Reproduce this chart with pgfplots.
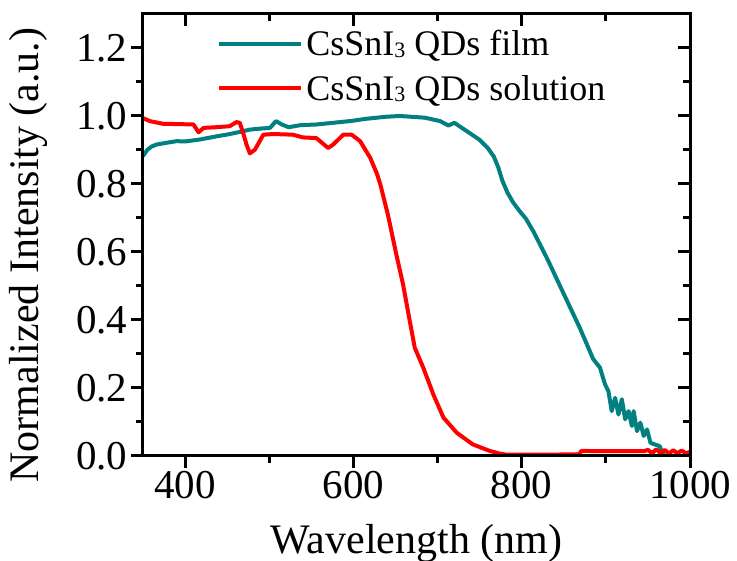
\documentclass[border=0pt]{standalone}
\usepackage{fontspec}
\setmainfont{Liberation Serif}
\usepackage{pgfplots}
\pgfplotsset{compat=1.18}
\definecolor{film}{RGB}{0,128,128}
\definecolor{sol}{RGB}{255,0,0}
\newcommand{\sub}[1]{\raisebox{-0.04em}{\fontsize{22}{24}\selectfont #1}}
\begin{document}
\begin{tikzpicture}
\pgfplotsset{
  common/.style={
    scale only axis, width=547pt, height=442pt,
    xmin=350, xmax=1000, ymin=0, ymax=1.3,
    xtick={400,600,800,1000}, ytick={0,0.2,0.4,0.6,0.8,1.0,1.2},
    minor x tick num=1, minor y tick num=1,
    major tick length=12pt, minor tick length=7pt,
    axis line style={line width=3pt},
    every tick/.style={line width=3pt, black},
    /pgf/number format/assume math mode=true,
  }
}
\begin{axis}[common,
  xtick pos=bottom, ytick pos=left, tick align=outside,
  tick label style={font=\fontsize{41}{44}\selectfont},
  xticklabel style={/pgf/number format/.cd, fixed, 1000 sep={}},
  yticklabel style={/pgf/number format/.cd, fixed, fixed zerofill, precision=1},
  label style={font=\fontsize{42}{46}\selectfont},
  xlabel={Wavelength (nm)}, ylabel={Normalized Intensity (a.u.)},
  xlabel style={yshift=-18pt}, ylabel style={yshift=22pt, xshift=-20pt},
  legend style={draw=none, fill=none, at={(0.13,0.975)}, anchor=north west,
    font=\fontsize{36}{40}\selectfont, row sep=12pt,
    nodes={inner sep=3pt}},
  legend cell align=left,
  legend image code/.code={\draw[#1,line width=4pt] (0pt,0pt) -- (82pt,0pt);},
  clip=true,
]
\coordinate (sw) at (rel axis cs:0,0);
\coordinate (ne) at (rel axis cs:1,1);
\addplot[film, line width=4pt, line join=round] coordinates {
(350,0.882)(355,0.90)(360,0.91)(366,0.916)(375,0.92)(390,0.926)(400,0.925)(418,0.931)(437,0.94)(449,0.945)(463,0.952)(477,0.96)(490,0.963)(501,0.965)(508,0.985)(515,0.975)(523,0.967)(537,0.973)(556,0.975)(576,0.98)(596,0.985)(616,0.992)(640,0.998)(655,1.0)(667,0.998)(685,0.995)(703,0.985)(713,0.972)(720,0.98)(735,0.955)(750,0.93)(760,0.905)(767,0.88)(772,0.85)(777,0.81)(783,0.775)(790,0.745)(797,0.722)(805,0.698)(814,0.660)(830,0.582)(849,0.482)(869,0.377)(885,0.285)(893,0.26)(899,0.211)(903,0.191)(907,0.132)(911,0.171)(915,0.122)(919,0.167)(923,0.108)(927,0.132)(931,0.088)(933,0.132)(937,0.073)(941,0.098)(945,0.059)(949,0.078)(953,0.039)(958,0.034)(964,0.029)(968,0.005)(970,0.0)
};
\addlegendentry{CsSnI\sub{3} QDs film}
\addplot[sol, line width=4pt, line join=round] coordinates {
(350,0.994)(358,0.985)(374,0.977)(395,0.976)(410,0.975)(416,0.952)(422,0.965)(437,0.967)(453,0.97)(461,0.982)(465,0.98)(469,0.95)(473,0.916)(477,0.89)(483,0.901)(493,0.945)(505,0.947)(528,0.945)(540,0.937)(556,0.935)(570,0.906)(576,0.916)(588,0.945)(598,0.945)(608,0.926)(620,0.877)(628,0.83)(632,0.799)(641,0.71)(651,0.593)(659,0.505)(667,0.397)(673,0.318)(683,0.26)(695,0.181)(707,0.113)(723,0.068)(742,0.034)(762,0.015)(774,0.007)(782,0.004)(830,0.004)(868,0.005)(871,0.015)(900,0.014)(945,0.014)(950,0.018)(955,0.008)(960,0.02)(965,0.008)(970,0.018)(975,0.007)(980,0.017)(985,0.008)(990,0.016)(995,0.008)(1000,0.012)
};
\addlegendentry{CsSnI\sub{3} QDs solution}
\end{axis}
\begin{axis}[common,
  xtick pos=top, ytick pos=right, tick align=inside,
  xticklabels={}, yticklabels={},
]
\end{axis}
\pgfresetboundingbox
\path[use as bounding box] ([xshift=-143pt,yshift=-105pt]sw) rectangle ([xshift=47pt,yshift=14pt]ne);
\end{tikzpicture}
\end{document}
